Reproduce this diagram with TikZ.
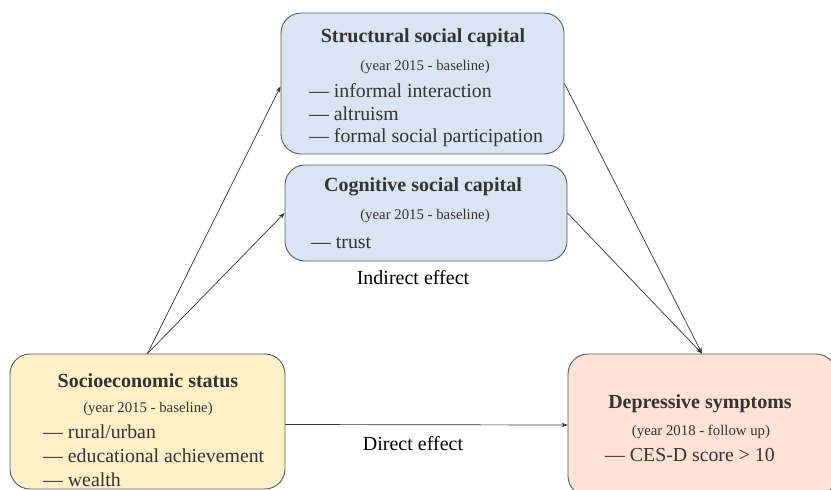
\documentclass[tikz,border=0pt]{standalone}
\usepackage{fontspec}
\setmainfont{Liberation Serif}
\usetikzlibrary{arrows.meta}

\definecolor{capblue}{HTML}{DAE5F3}
\definecolor{sesyellow}{HTML}{FFF0C9}
\definecolor{deppink}{HTML}{FDE2D5}
\definecolor{edgegray}{HTML}{5A5A5A}
\definecolor{inkgray}{HTML}{333333}

\begin{document}
\begin{tikzpicture}
[x = 1pt, y = -1pt,
 box/.style = {draw = edgegray, line width = 0.9pt, rounded corners = 20pt, inner sep = 0pt},
 title/.style = {font = \rmfamily\fontsize{20}{24}\selectfont\bfseries, text = inkgray, inner sep = 0pt},
 wave/.style = {font = \rmfamily\fontsize{14.8}{17}\selectfont, text = inkgray, inner sep = 0pt},
 item/.style = {font = \rmfamily\fontsize{19.8}{23}\selectfont, text = inkgray, inner sep = 0pt, anchor = west},
 effect/.style = {font = \rmfamily\fontsize{20}{24}\selectfont, text = black, inner sep = 0pt},
 arr/.style = {draw = black!80, line width = 0.7pt, -{Stealth[length=6pt, width=4.5pt]}}
 ]
\useasboundingbox (0,0) rectangle (831,490);
\clip (0,0) rectangle (831,490);

% boxes
\node [box, fill = capblue, minimum width = 283pt, minimum height = 141pt] (ssc) at (422.5,83.5) {};
\node [box, fill = capblue, minimum width = 282pt, minimum height = 96pt] (csc) at (426,213) {};
\node [box, fill = sesyellow, minimum width = 275pt, minimum height = 135pt] (ses) at (147.5,421.5) {};
\node [box, fill = deppink, minimum width = 268pt, minimum height = 142pt] (dep) at (702,425) {};

% structural social capital
\node [title] (ssct) at (423,38) {Structural social capital};
\node [wave] (sscw) at (425,67) {(year 2015 - baseline)};
\node [item] (ssc1) at (309,91) {--- informal interaction};
\node [item] (ssc2) at (309,114) {--- altruism};
\node [item] (ssc3) at (309,138) {--- formal social participation};

% cognitive social capital
\node [title] (csct) at (423,187) {Cognitive social capital};
\node [wave] (cscw) at (425,216) {(year 2015 - baseline)};
\node [item] (csc1) at (311,243) {--- trust};

% socioeconomic status
\node [title] (sest) at (148,381) {Socioeconomic status};
\node [wave] (sesw) at (148,409) {(year 2015 - baseline)};
\node [item] (ses1) at (43,432) {--- rural/urban};
\node [item] (ses2) at (43,456) {--- educational achievement};
\node [item] (ses3) at (43,480) {--- wealth};

% depressive symptoms
\node [title] (dept) at (700,404) {Depressive symptoms};
\node [wave] (depw) at (701,432) {(year 2018 - follow up)};
\node [item] (dep1) at (605,455) {--- CES-D score > 10};

% effects
\node [effect] (ind) at (413,278) {Indirect effect};
\node [effect] (dir) at (413,444) {Direct effect};

\draw [arr] (ses.north) -- ([yshift=-3pt]ssc.west);
\draw [arr] (ses.north) -- (csc.west);
\draw [arr] (ssc.east) -- (dep.north);
\draw [arr] (csc.east) -- (dep.north);
\draw [arr] ([yshift=-3pt]ses.east) -- (dep.west);
\end{tikzpicture}
\end{document}
